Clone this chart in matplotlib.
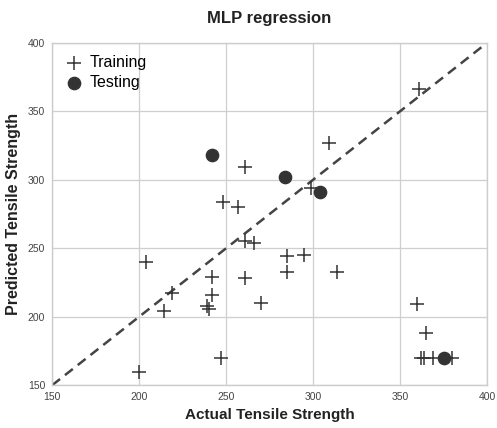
import numpy as np
import matplotlib
matplotlib.use("Agg")
import matplotlib.pyplot as plt

# training points (actual, predicted)
train_actual = [361, 309, 261, 299, 248, 257, 261, 266, 204, 285, 295, 285, 314,
                242, 261, 219, 242, 214, 239, 240, 270, 360, 365,
                362, 364, 369, 380, 247, 200]
train_pred = [366, 327, 309, 294, 284, 280, 255, 254, 240, 244, 245, 233, 233,
              229, 228, 217, 216, 204, 208, 206, 210, 209, 188,
              170, 170, 170, 170, 170, 160]

# testing points
test_actual = [242, 284, 304, 375]
test_pred = [318, 302, 291, 170]

lims = [150, 400]
ticks = [150, 200, 250, 300, 350, 400]

plt.rcParams['font.family'] = ['Liberation Sans', 'DejaVu Sans']

fig = plt.figure(figsize=(4.97, 4.28), dpi=100)
ax = fig.add_axes([0.105, 0.10, 0.875, 0.80])

ax.grid(True, color='#cfcfcf', linewidth=0.9)
ax.set_axisbelow(True)
for s in ax.spines.values():
    s.set_color('#cccccc')
    s.set_linewidth(1.0)

ax.plot(lims, lims, linestyle='--', color='#444444', linewidth=1.8, dashes=(4, 2.5), zorder=2)

ax.scatter(train_actual, train_pred, marker='+', s=110, color='#333333',
           linewidths=1.1, label='Training', zorder=3)
ax.scatter(test_actual, test_pred, marker='o', s=78, color='#333333',
           label='Testing', zorder=4)

ax.set_xlim(lims)
ax.set_ylim(lims)
ax.set_xticks(ticks)
ax.set_yticks(ticks)
ax.tick_params(length=0, labelsize=7.5, labelcolor='#444444', pad=5)

ax.set_title('MLP regression', fontsize=12, fontweight='bold', color='#222222', pad=14)
ax.set_xlabel('Actual Tensile Strength', fontsize=11, fontweight='bold', color='#222222', labelpad=4)
ax.set_ylabel('Predicted Tensile Strength', fontsize=11.5, fontweight='bold', color='#222222', labelpad=5)

ax.legend(loc='upper left', frameon=False, fontsize=11.5, handletextpad=0.4,
          borderaxespad=0.35, labelspacing=0.35, handlelength=1.2)

fig.savefig('out.png', dpi=100)
